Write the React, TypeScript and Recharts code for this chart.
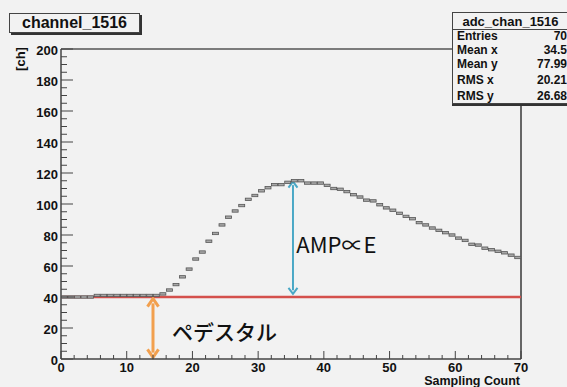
import React from 'react';
import {
  ComposedChart,
  Scatter,
  XAxis,
  YAxis,
  ReferenceLine,
  ReferenceDot,
} from 'recharts';

// ---- data ----
const adcValues: number[] = [
  40, 40, 40, 40, 40,
  41, 41, 41, 41, 41, 41, 41, 41, 41, 41,
  42,
  44.5, 48, 53, 58, 64.5, 69, 76, 81, 86.5, 91.5, 95.5, 99,
  103, 105.5, 108.5, 110.5, 112.5, 112.5, 114, 115, 115, 113.5, 113.5, 113.5,
  112, 110, 109.5, 108, 106, 104.5, 102.5, 102, 99.5, 97.5, 96, 94, 92,
  90.5, 88, 86.5, 84.5, 83, 81.5, 80, 78, 76.5, 74, 73.5, 71.5, 70.5, 69.5, 68.5, 67, 65.5,
];
const xTicks: number[] = [0, 2, 4, 6, 8, 10, 12, 14, 16, 18, 20, 22, 24, 26, 28, 30, 32, 34, 36, 38, 40, 42, 44, 46, 48, 50, 52, 54, 56, 58, 60, 62, 64, 66, 68, 70];
const yTicks: number[] = [0, 5, 10, 15, 20, 25, 30, 35, 40, 45, 50, 55, 60, 65, 70, 75, 80, 85, 90, 95, 100, 105, 110, 115, 120, 125, 130, 135, 140, 145, 150, 155, 160, 165, 170, 175, 180, 185, 190, 195, 200];
const pedestal = 40;
const ampPeak = 115;
const ampArrowX = 35.3;
const pedArrowX = 14;
const statsRows: [string, string][] = [
  ['Entries', '70'],
  ['Mean x', '34.5'],
  ['Mean y', '77.99'],
  ['RMS x', '20.21'],
  ['RMS y', '26.68'],
];

const data = adcValues.map((v, i) => ({ x: i + 0.5, y: v }));

// ---- layout ----
const W = 567;
const H = 387;
const M = { top: 49, right: 46, bottom: 0, left: 0 };
const YW = 61;
const XH = 28;
const PLOT_W = W - M.left - M.right - YW;
const BIN_W = PLOT_W / 70;
const FONT = '"Liberation Sans", Arial, Helvetica, sans-serif';

const YTick = (props: any) => {
  const { x, y, payload } = props;
  const v = payload.value;
  const major = v % 20 === 0;
  return (
    <g>
      <line x1={x} x2={x + (major ? 12 : 6)} y1={y} y2={y} stroke="#444" strokeWidth={1} />
      {major && (
        <text x={x - 3} y={y + 1} textAnchor="end" dominantBaseline="central" fontFamily={FONT} fontWeight="bold" fontSize={13} fill="#111">
          {v}
        </text>
      )}
    </g>
  );
};

const XTick = (props: any) => {
  const { x, y, payload } = props;
  const v = payload.value;
  const major = v % 10 === 0;
  return (
    <g>
      <line x1={x} x2={x} y1={y} y2={y - (major ? 8 : 4)} stroke="#444" strokeWidth={1} />
      {major && (
        <text x={x} y={y + 8} textAnchor="middle" dominantBaseline="central" fontFamily={FONT} fontWeight="bold" fontSize={13} fill="#111">
          {v}
        </text>
      )}
    </g>
  );
};

const BinMark = (props: any) => {
  const { cx, cy } = props;
  if (cx == null || cy == null) return <g />;
  return (
    <g>
      <rect x={cx - BIN_W / 2 + 0.3} y={cy - 1.2} width={BIN_W - 0.6} height={2.4} fill="#a8a8a8" stroke="#555" strokeWidth={0.8} />
    </g>
  );
};

const makeArrow = (color: string, sw: number, hw: number, hl: number) => (props: any) => {
  const { x1, y1, x2, y2 } = props;
  if ([x1, y1, x2, y2].some((v) => v == null || isNaN(v))) return <g />;
  const top = Math.min(y1, y2);
  const bot = Math.max(y1, y2);
  const x = x1;
  return (
    <g>
      <line x1={x} x2={x} y1={top + hl * 0.6} y2={bot - hl * 0.6} stroke={color} strokeWidth={sw} />
      <polyline points={`${x - hw / 2},${top + hl} ${x},${top} ${x + hw / 2},${top + hl}`} fill="none" stroke={color} strokeWidth={sw} strokeLinejoin="miter" />
      <polyline points={`${x - hw / 2},${bot - hl} ${x},${bot} ${x + hw / 2},${bot - hl}`} fill="none" stroke={color} strokeWidth={sw} strokeLinejoin="miter" />
    </g>
  );
};

const TextShape = (text: string, size: number, family: string, weight: number) => (props: any) => {
  const { cx, cy } = props;
  if (cx == null || cy == null) return <g />;
  return (
    <text x={cx} y={cy} dominantBaseline="central" fontFamily={family} fontSize={size} fontWeight={weight} fill="#111">
      {text}
    </text>
  );
};

export default function App() {
  const statsY = [36, 50, 64, 80, 96];
  return (
    <div style={{ position: 'absolute', left: 0, top: 0, width: W, height: H, background: '#f2f2f2', overflow: 'hidden', fontFamily: FONT }}>
      <ComposedChart width={W} height={H} margin={M} data={data}>
        <XAxis
          dataKey="x"
          type="number"
          domain={[0, 70]}
          ticks={xTicks}
          interval={0}
          height={XH}
          tickSize={0}
          tickMargin={0}
          tick={<XTick />}
          axisLine={{ stroke: '#444', strokeWidth: 1.5 }}
          allowDataOverflow
        />
        <YAxis
          dataKey="y"
          type="number"
          domain={[0, 200]}
          ticks={yTicks}
          interval={0}
          width={YW}
          tickSize={0}
          tickMargin={0}
          tick={<YTick />}
          axisLine={{ stroke: '#444', strokeWidth: 1.5 }}
          allowDataOverflow
        />
        <ReferenceLine y={200} stroke="#555" strokeWidth={1.5} />
        <ReferenceLine x={70} stroke="#666" strokeWidth={2} />
        <Scatter data={data} dataKey="y" isAnimationActive={false} shape={<BinMark />} />
        <ReferenceLine y={pedestal} stroke="#d4504c" strokeWidth={2.5} />
        <ReferenceLine
          segment={[{ x: pedArrowX, y: 1 }, { x: pedArrowX, y: pedestal - 1 }]}
          shape={makeArrow('#f2a04e', 3, 11, 8)}
        />
        <ReferenceLine
          segment={[{ x: ampArrowX, y: pedestal + 2 }, { x: ampArrowX, y: ampPeak - 0.5 }]}
          shape={makeArrow('#4aa8c6', 2, 9, 6)}
        />
        <ReferenceDot x={16.9} y={18} r={0} shape={TextShape('ペデスタル', 21, '"Noto Sans CJK JP", sans-serif', 500)} />
        <ReferenceDot x={35.8} y={75} r={0} shape={TextShape('AMP∝E', 22, '"Noto Sans CJK JP", sans-serif', 400)} />
      </ComposedChart>

      {/* y axis title */}
      <div style={{ position: 'absolute', left: 1, top: 51, width: 40, height: 16, lineHeight: '16px', textAlign: 'center', transform: 'rotate(-90deg)', fontWeight: 'bold', fontSize: 13, color: '#111' }}>
        [ch]
      </div>
      {/* x axis title */}
      <div style={{ position: 'absolute', right: W - 520, top: 375, height: 12, lineHeight: '12px', fontWeight: 'bold', fontSize: 12.5, color: '#111', whiteSpace: 'nowrap' }}>
        Sampling Count
      </div>
      {/* title box */}
      <div style={{ position: 'absolute', left: 9, top: 13, width: 131, height: 20, boxSizing: 'border-box', border: '1px solid #444', boxShadow: '2px 2px 0 #333', background: '#f2f2f2', textAlign: 'center', lineHeight: '18px', fontWeight: 'bold', fontSize: 16, color: '#111' }}>
        channel_1516
      </div>
      {/* stats box */}
      <div style={{ position: 'absolute', left: 452, top: 12, width: 130, height: 92, boxSizing: 'border-box', border: '1px solid #444', boxShadow: '0 2px 0 #333', background: '#f2f2f2', color: '#111' }}>
        <div style={{ position: 'absolute', left: 0, width: 115, top: 2, height: 13, lineHeight: '13px', textAlign: 'center', fontWeight: 'bold', fontSize: 13 }}>adc_chan_1516</div>
        <div style={{ position: 'absolute', left: 0, top: 16, width: 130, height: 1, background: '#444' }} />
        {statsRows.map(([k, v], i) => (
          <div key={k} style={{ position: 'absolute', left: 0, top: statsY[i] - 13 - 6, width: 114, height: 12, lineHeight: '12px', fontWeight: 'bold', fontSize: 12 }}>
            <span style={{ position: 'absolute', left: 4, top: 0, lineHeight: '12px' }}>{k}</span>
            <span style={{ position: 'absolute', right: 0, top: 0, lineHeight: '12px' }}>{v}</span>
          </div>
        ))}
      </div>
    </div>
  );
}
